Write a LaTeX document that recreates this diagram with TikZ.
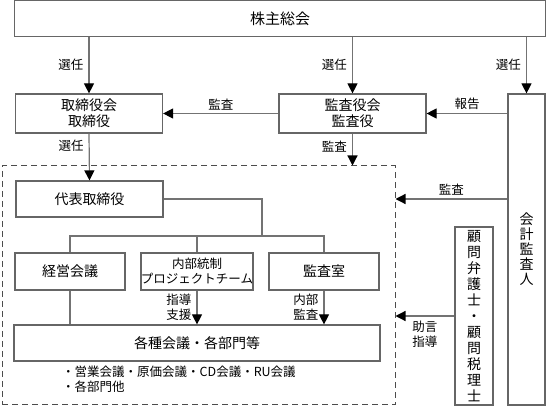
\documentclass[tikz,border=0pt]{standalone}
\usepackage{fontspec}
\setmainfont{Noto Sans CJK JP}
\usepackage{tikz}
\usetikzlibrary{arrows.meta, positioning, calc}
\tikzstyle{arrow} = [-{Triangle[length=10pt, width=10pt, color=black]}, line width=1.2pt, color=black!55]
\tikzstyle{link} = [line width=1.2pt, color=black!55]

\begin{document}
\begin{tikzpicture}[
    x=1pt, y=-1pt,
    orgbox/.style={rectangle, draw=black!60, line width=1.2pt, fill=white, text=black,
                   minimum width=147pt, minimum height=37pt, inner sep=0pt,
                   align=center, font=\fontsize{14}{16}\selectfont},
    tallbox/.style={rectangle, draw=black!60, line width=1.2pt, fill=white, text=black,
                    minimum width=37pt, inner sep=0pt, align=center},
    lbl/.style={font=\fontsize{12.5}{15}\selectfont, text=black, inner sep=2pt, align=center},
    framebox/.style={rectangle, draw=black!70, dash pattern=on 6pt off 4pt,
                     line width=1pt, inner sep=0pt}
]
    \useasboundingbox (0,0) rectangle (547,406);

    % Frame: execution side
    \node[framebox, minimum width=393pt, minimum height=239pt] (frame) at (198.5,285.5) {};

    % Row 1: shareholders
    \node[orgbox, minimum width=531pt, minimum height=36pt, font=\fontsize{15}{17}\selectfont]
        (share) at (280,18.5) {株主総会};

    % Row 2: board, auditors, accounting auditor
    \node[orgbox, minimum height=39pt] (board) at (89,113.5) {取締役会\\取締役};
    \node[orgbox, minimum height=39pt] (audit) at (352.5,113.5) {監査役会\\監査役};
    \node[tallbox, minimum height=311pt, font=\fontsize{14}{15}\selectfont]
        (acct) at (526.5,249.5) {会\\計\\監\\査\\人};

    % Row 3: representative director
    \node[orgbox, minimum height=36pt] (rep) at (89.5,199) {代表取締役};
    \coordinate (fork) at (262,236);

    % Row 4: committees
    \node[orgbox, minimum width=110pt] (mgmt) at (70,271.5) {経営会議};
    \node[orgbox, minimum width=110pt, font=\fontsize{12.5}{15}\selectfont]
        (ictrl) at (197,271.5) {内部統制\\プロジェクトチーム};
    \node[orgbox, minimum width=110pt] (iaudit) at (324,271.5) {監査室};

    % Row 5: meetings and divisions
    \node[orgbox, minimum width=366pt, minimum height=36pt] (depts) at (197,343) {各種会議・各部門等};
    \node[lbl, anchor=north west, align=left, inner sep=0pt] (deptlist) at (62,366)
        {・営業会議・原価会議・CD会議・RU会議\\・各部門他};

    % Side: advisors
    \node[tallbox, minimum width=38pt, minimum height=178pt, font=\fontsize{14}{16}\selectfont]
        (advis) at (474,316) {顧\\問\\弁\\護\\士\\・\\顧\\問\\税\\理\\士};

    % Arrows
    \draw[arrow] (board.north |- share.south) -- node[lbl, left=3pt] {選任} (board.north);
    \draw[arrow] (audit.north |- share.south) -- node[lbl, left=3pt] {選任} (audit.north);
    \draw[arrow] (acct.north |- share.south) -- node[lbl, left=3pt] {選任} (acct.north);
    \draw[arrow] (audit.west) -- node[lbl, above=1pt] {監査} (board.east);
    \draw[arrow] (acct.west |- audit) -- node[lbl, above=1pt] {報告} (audit.east);
    \draw[arrow] (board.south) -- node[lbl, left=3pt, pos=0.27] {選任} (rep.north);
    \draw[arrow] (audit.south) -- node[lbl, left=3pt, pos=0.4] {監査} (audit.south |- frame.north);
    \draw[arrow] (acct.west |- rep) -- node[lbl, above=1pt] {監査} (frame.east |- rep);
    \draw[arrow] (advis.west) -- node[lbl, below=2pt] {助言\\指導} (advis.west -| frame.east);

    % Tree lines
    \draw[link] (rep.east) -| (fork);
    \draw[link] (mgmt.north) |- (fork);
    \draw[link] (iaudit.north) |- (fork);
    \draw[link] (ictrl.north) -- (ictrl.north |- fork);
    \draw[link] (mgmt.south) -- (mgmt.south |- depts.north);
    \draw[arrow] (ictrl.south) -- node[lbl, left=3pt] {指導\\支援} (ictrl.south |- depts.north);
    \draw[arrow] (iaudit.south) -- node[lbl, left=3pt] {内部\\監査} (iaudit.south |- depts.north);

\end{tikzpicture}
\end{document}
